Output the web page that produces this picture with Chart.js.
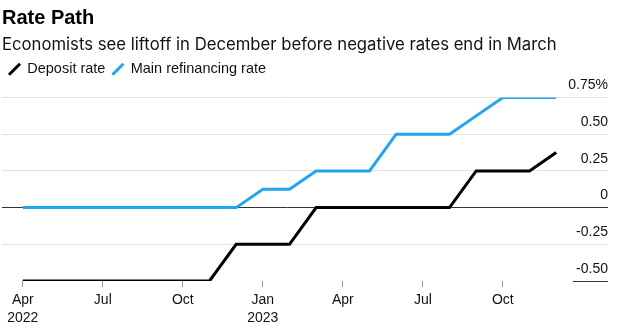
<!DOCTYPE html>
<html>
<head>
  <meta charset="utf-8">
  <script src="https://cdn.jsdelivr.net/npm/chart.js@4"></script>
  <style>
    body { margin: 0; background: #fff; }
    #wrap { width: 627px; height: 329px; }
  </style>
</head>
<body>
  <div id="wrap"><canvas id="rates"></canvas></div>
  <script>
    // months since Apr 2022, one point per month through Dec 2023
    const monthIndex = [0, 1, 2, 3, 4, 5, 6, 7, 8, 9, 10, 11, 12, 13, 14, 15, 16, 17, 18, 19, 20];
    const depositRate = [-0.5, -0.5, -0.5, -0.5, -0.5, -0.5, -0.5, -0.5, -0.25, -0.25, -0.25,
      0, 0, 0, 0, 0, 0, 0.25, 0.25, 0.25, 0.375];
    const refiRate = [0, 0, 0, 0, 0, 0, 0, 0, 0, 0.125, 0.125,
      0.25, 0.25, 0.25, 0.5, 0.5, 0.5, 0.625, 0.75, 0.75, 0.75];

    const xTickMonths = [0, 3, 6, 9, 12, 15, 18];
    const xTickLabels = [['Apr', '2022'], 'Jul', 'Oct', ['Jan', '2023'], 'Apr', 'Jul', 'Oct'];
    const yTickValues = [-0.5, -0.25, 0, 0.25, 0.5, 0.75];
    const yTickLabels = ['-0.50', '-0.25', '0', '0.25', '0.50', '0.75%'];

    const toPoints = (vals) => vals.map((v, i) => ({ x: monthIndex[i], y: v }));

    Chart.defaults.font.family = "'Liberation Sans', Arial, sans-serif";
    Chart.defaults.color = '#000';

    // extra room between the legend row and the plot
    const legendGap = {
      id: 'legendGap',
      beforeInit(chart) {
        const fit = chart.legend.fit;
        chart.legend.fit = function () {
          fit.call(this);
          this.height += 11;
        };
      },
    };

    new Chart(document.getElementById('rates'), {
      type: 'line',
      data: {
        datasets: [{
          label: 'Deposit rate',
          data: toPoints(depositRate),
          borderColor: '#000',
          backgroundColor: '#000',
          borderWidth: 3,
          pointRadius: 0,
          pointRotation: -45,
          pointStyle: 'line',
          tension: 0,
        }, {
          label: 'Main refinancing rate',
          data: toPoints(refiRate),
          borderColor: '#1ea7ec',
          backgroundColor: '#1ea7ec',
          borderWidth: 3,
          pointRadius: 0,
          pointRotation: -45,
          pointStyle: 'line',
          tension: 0,
        }],
      },
      options: {
        responsive: true,
        maintainAspectRatio: false,
        animation: false,
        layout: { padding: { left: 2, right: 19, top: 0, bottom: 2 } },
        plugins: {
          title: {
            display: true,
            text: 'Rate Path',
            align: 'start',
            color: '#000',
            font: { size: 20, weight: 'bold' },
            padding: { top: 6, bottom: 0 },
          },
          subtitle: {
            display: true,
            text: 'Economists see liftoff in December before negative rates end in March',
            align: 'start',
            color: '#111',
            font: { family: 'Inter', size: 16.7 },
            padding: { top: 5, bottom: 0 },
          },
          legend: {
            align: 'start',
            labels: {
              usePointStyle: true,
              boxWidth: 11,
              boxHeight: 11,
              padding: 7,
              color: '#111',
              font: { size: 14.5 },
            },
          },
          tooltip: { enabled: false },
        },
        scales: {
          x: {
            type: 'linear',
            min: -0.78,
            max: 20.63,
            afterBuildTicks: (scale) => { scale.ticks = xTickMonths.map((v) => ({ value: v })); },
            afterFit: (scale) => { scale.height = 46; },
            grid: {
              drawOnChartArea: false,
              drawTicks: true,
              tickLength: 6,
              tickColor: '#9a9a9a',
            },
            border: { display: false },
            ticks: {
              autoSkip: false,
              maxRotation: 0,
              padding: 4,
              color: '#111',
              font: { size: 14, lineHeight: 1.3 },
              callback: (v) => xTickLabels[xTickMonths.indexOf(v)],
            },
          },
          y: {
            position: 'right',
            min: -0.5,
            max: 0.75,
            afterBuildTicks: (scale) => { scale.ticks = yTickValues.map((v) => ({ value: v })); },
            afterFit: (scale) => { scale.width = 35; },
            grid: {
              drawTicks: true,
              tickLength: 35,
              color: (ctx) => ctx.tick.value === 0 ? '#333' : (ctx.tick.value === -0.5 ? 'rgba(0,0,0,0)' : '#e0e0e0'),
              tickColor: (ctx) => (ctx.tick.value === 0 || ctx.tick.value === -0.5) ? '#333' : '#e0e0e0',
            },
            border: { display: false },
            ticks: {
              mirror: true,
              padding: 35,
              labelOffset: -12,
              color: '#111',
              font: { size: 14 },
              callback: (v) => yTickLabels[yTickValues.indexOf(v)],
            },
          },
        },
      },
      plugins: [legendGap],
    });
  </script>
</body>
</html>
